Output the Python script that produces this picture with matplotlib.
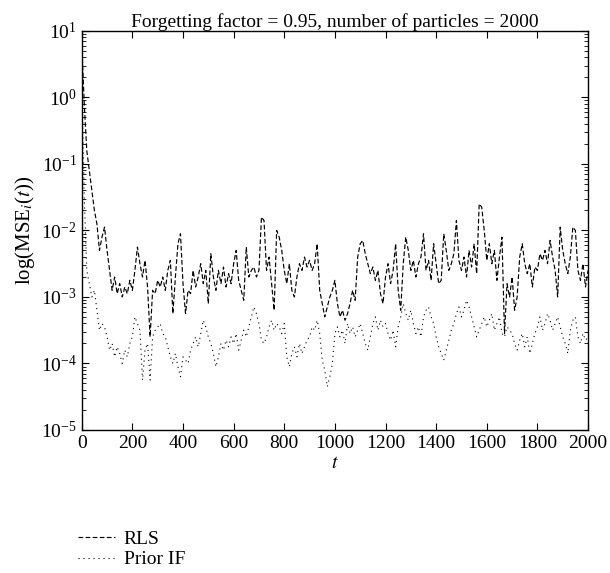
import numpy as np
import matplotlib
matplotlib.use("Agg")
import matplotlib.pyplot as plt

# log10 of the MSE, one value every 10 time steps (t = 0 ... 2000)
rls_log = [
    0.8, -0.1, -0.8, -1.1, -1.4, -1.7, -1.9, -2.3, -2.1, -1.95,
    -2.3, -2.6, -2.9, -2.7, -2.95, -2.8, -3.0, -2.85, -2.95, -2.75,
    -2.9, -2.6, -2.25, -2.5, -2.7, -2.45, -2.85, -3.6, -2.9, -2.95,
    -2.75, -2.85, -2.7, -2.9, -2.6, -2.45, -3.25, -2.7, -2.2, -2.05,
    -2.8, -3.25, -2.9, -2.95, -2.6, -2.85, -2.7, -2.5, -2.8, -2.6,
    -3.1, -2.35, -2.7, -2.9, -2.6, -2.8, -2.55, -2.85, -2.65, -2.8,
    -2.5, -2.3, -2.75, -2.9, -3.05, -2.25, -2.7, -2.6, -2.55, -2.7,
    -2.6, -1.8, -1.85, -2.6, -2.4, -2.8, -3.2, -2.0, -2.1, -2.3,
    -2.6, -2.8, -2.5, -2.9, -3.0, -2.7, -2.5, -2.6, -2.4, -2.55,
    -2.45, -2.6, -2.5, -2.2, -2.9, -3.1, -3.3, -3.15, -3.0, -2.9,
    -2.75, -3.1, -3.3, -3.2, -3.35, -3.25, -3.1, -2.9, -3.05, -2.4,
    -2.2, -2.15, -2.35, -2.5, -2.65, -2.55, -2.75, -2.6, -2.95, -3.1,
    -2.7, -2.5, -2.8, -2.6, -2.2, -2.9, -3.2, -2.5, -2.1, -2.3,
    -2.6, -2.45, -2.7, -2.5, -2.4, -2.05, -2.6, -2.45, -2.75, -2.2,
    -2.5, -2.8, -2.75, -2.05, -2.3, -2.6, -2.5, -2.35, -1.85, -2.45,
    -2.6, -2.4, -2.7, -2.3, -2.55, -2.2, -2.65, -1.6, -1.65, -2.0,
    -2.45, -2.2, -2.5, -2.3, -2.75, -2.4, -2.1, -3.55, -2.8, -3.0,
    -2.7, -3.2, -3.0, -2.4, -2.2, -2.5, -2.65, -2.5, -2.85, -2.55,
    -2.6, -2.35, -2.45, -2.3, -2.5, -2.15, -2.4, -2.6, -3.0, -1.95,
    -2.3, -2.5, -2.65, -2.4, -1.95, -2.0, -2.6, -2.75, -2.5, -2.85,
    -2.6,
]

prior_if_log = [
    0.3, -1.5, -2.6, -2.8, -3.0, -2.9, -3.2, -3.5, -3.4, -3.45,
    -3.6, -3.8, -3.7, -3.9, -3.75, -3.85, -4.0, -3.8, -3.9, -3.7,
    -3.6, -3.3, -3.4, -3.5, -4.25, -3.8, -3.7, -4.25, -3.6, -3.5,
    -3.45, -3.4, -3.55, -3.6, -3.75, -3.9, -4.0, -3.85, -4.05, -4.2,
    -3.9, -3.95, -4.0, -3.8, -3.7, -3.6, -3.75, -3.55, -3.35, -3.45,
    -3.6, -3.7, -3.85, -4.05, -3.9, -3.7, -3.8, -3.65, -3.75, -3.6,
    -3.7, -3.55, -3.8, -3.65, -3.5, -3.6, -3.45, -3.3, -3.15, -3.25,
    -3.4, -3.65, -3.7, -3.6, -3.45, -3.35, -3.5, -3.4, -3.45, -3.55,
    -3.4, -3.9, -4.05, -3.85, -3.75, -3.9, -3.7, -3.85, -3.75, -3.65,
    -3.6, -3.45, -3.5, -3.35, -3.55, -3.95, -4.1, -4.35, -4.2, -4.0,
    -3.55, -3.45, -3.6, -3.5, -3.7, -3.4, -3.55, -3.45, -3.6, -3.5,
    -3.4, -3.55, -3.7, -3.8, -3.6, -3.4, -3.3, -3.5, -3.35, -3.45,
    -3.4, -3.55, -3.65, -3.5, -3.75, -3.45, -3.3, -3.1, -3.25, -3.35,
    -3.2, -3.4, -3.55, -3.45, -3.6, -3.3, -3.2, -3.15, -3.3, -3.4,
    -3.6, -3.75, -3.85, -3.95, -3.8, -3.65, -3.5, -3.4, -3.25, -3.15,
    -3.3, -3.2, -3.05, -3.15, -3.3, -3.45, -3.6, -3.5, -3.4, -3.3,
    -3.45, -3.35, -3.25, -3.5, -3.4, -3.3, -3.55, -3.6, -3.45, -3.5,
    -3.55, -3.7, -3.8, -3.65, -3.55, -3.75, -3.6, -3.85, -3.7, -3.55,
    -3.45, -3.3, -3.5, -3.4, -3.25, -3.35, -3.5, -3.4, -3.3, -3.45,
    -3.6, -3.7, -3.85, -3.5, -3.35, -3.3, -3.6, -3.7, -3.55, -3.65,
    -3.6,
]

labels = ["RLS", "Prior IF"]
title = "Forgetting factor = 0.95, number of particles = 2000"


def main():
    plt.rcParams["font.family"] = ["Liberation Serif", "DejaVu Serif"]
    plt.rcParams["mathtext.fontset"] = "stix"
    plt.rcParams["font.size"] = 14

    t_rls = np.linspace(0, 2000, len(rls_log))
    t_prior = np.linspace(0, 2000, len(prior_if_log))
    rls = 10.0 ** np.array(rls_log)
    prior = 10.0 ** np.array(prior_if_log)

    fig = plt.figure(figsize=(6.1, 5.73), dpi=100)
    ax = fig.add_axes([0.134, 0.2496, 0.830, 0.6964])

    # plot data
    ax.plot(t_rls, rls, color="black", linewidth=0.85, linestyle=(0, (4, 2)), label=labels[0])
    ax.plot(t_prior, prior, color="black", linewidth=0.8, linestyle=(0, (1, 3.5)), label=labels[1])

    # configure axes
    ax.set_yscale("log")
    ax.set_xlim(0, 2000)
    ax.set_ylim(1e-5, 1e1)
    ax.set_xticks(np.arange(0, 2001, 200))
    ax.set_yticks([1e-5, 1e-4, 1e-3, 1e-2, 1e-1, 1e0, 1e1])
    ax.tick_params(which="both", direction="in", top=True, right=True, labelsize=14)
    ax.tick_params(which="major", length=5, width=0.8)
    ax.tick_params(which="minor", length=3, width=0.6)
    ax.xaxis.set_minor_locator(matplotlib.ticker.NullLocator())
    for s in ax.spines.values():
        s.set_linewidth(1.0)

    # labels
    ax.set_xlabel("$t$", fontsize=14, labelpad=2)
    ax.set_ylabel("log(MSE$_i$($t$))", fontsize=15, labelpad=3)
    ax.set_title(title, fontsize=14, pad=3)

    # legend below the plot
    handles, _ = ax.get_legend_handles_labels()
    fig.legend(handles, labels, loc="upper left", bbox_to_anchor=(0.115, 0.088),
               frameon=False, handlelength=1.9, handletextpad=0.45,
               labelspacing=0.15, fontsize=14, borderaxespad=0)

    fig.savefig("out.png", dpi=100)


if __name__ == "__main__":
    main()
